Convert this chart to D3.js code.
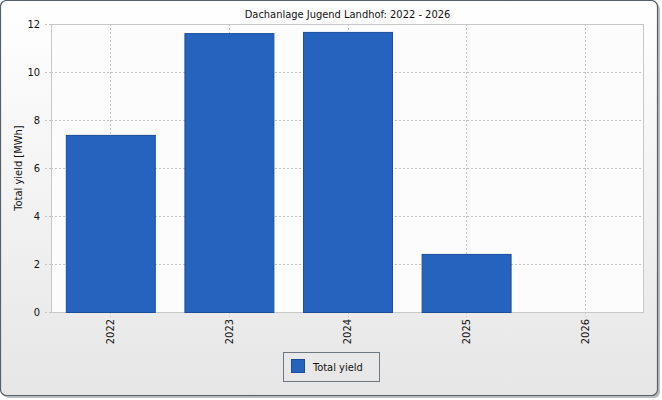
<!DOCTYPE html>
<html>
<head>
<meta charset="utf-8">
<script src="https://cdn.jsdelivr.net/npm/d3@7"></script>
<style>
body { margin: 0; background: #fff; }
svg text { font-family: 'DejaVu Sans Condensed', 'DejaVu Sans', sans-serif; font-size: 11px; fill: #111; }
</style>
</head>
<body>
<svg id="chart" width="662" height="400"></svg>
<script>
var title = 'Dachanlage Jugend Landhof: 2022 - 2026';
var years = ['2022', '2023', '2024', '2025', '2026'];
var totalYield = [7.38, 11.62, 11.67, 2.42, 0];
var yTicks = [0, 2, 4, 6, 8, 10, 12];

var svg = d3.select('#chart'),
	margin = { top: 24, right: 18, bottom: 88, left: 51 },
	width = +svg.attr('width') - margin.left - margin.right,
	height = +svg.attr('height') - margin.top - margin.bottom;

var defs = svg.append('defs');
var grad = defs.append('linearGradient').attr('id', 'bg').attr('x1', 0).attr('y1', 0).attr('x2', 0).attr('y2', 1);
grad.append('stop').attr('offset', '0%').attr('stop-color', '#ffffff');
grad.append('stop').attr('offset', '100%').attr('stop-color', '#e6e6e6');

// frame with shadow
svg.append('rect').attr('x', 3).attr('y', 3).attr('width', 657).attr('height', 395).attr('rx', 6)
	.attr('fill', '#b8bcc0');
svg.append('rect').attr('x', 0.5).attr('y', 0.5).attr('width', 657).attr('height', 395).attr('rx', 6)
	.attr('fill', 'url(#bg)').attr('stroke', '#56606a').attr('stroke-width', 1.2);

svg.append('text')
	.attr('x', margin.left + width / 2).attr('y', 18)
	.attr('text-anchor', 'middle')
	.text(title);

var g = svg.append('g').attr('transform', 'translate(' + margin.left + ',' + margin.top + ')');

var scaleX = d3.scaleBand().domain(years).range([0, width]).paddingInner(0.25).paddingOuter(0.125);
var scaleY = d3.scaleLinear().domain([0, 12]).range([height, 0]);

g.append('rect').attr('width', width).attr('height', height).attr('fill', '#fcfcfc');

// grid
g.append('g').selectAll('line').data(yTicks.slice(1, -1)).join('line')
	.attr('x1', 0).attr('x2', width)
	.attr('y1', function (d) { return scaleY(d) + 0.5; }).attr('y2', function (d) { return scaleY(d) + 0.5; })
	.attr('stroke', '#c4c4c4').attr('stroke-dasharray', '2,2');
g.append('g').selectAll('line').data(years).join('line')
	.attr('x1', function (d) { return Math.round(scaleX(d) + scaleX.bandwidth() / 2) + 0.5; })
	.attr('x2', function (d) { return Math.round(scaleX(d) + scaleX.bandwidth() / 2) + 0.5; })
	.attr('y1', 0).attr('y2', height + 5)
	.attr('stroke', '#c4c4c4').attr('stroke-dasharray', '2,2');

g.append('rect').attr('x', 0.5).attr('y', 0.5).attr('width', width - 1).attr('height', height)
	.attr('fill', 'none').attr('stroke', '#c8c8c8');

// bars
g.append('g').selectAll('rect').data(totalYield).join('rect')
	.attr('x', function (d, i) { return scaleX(years[i]) + 0.5; })
	.attr('y', function (d) { return scaleY(d) + 0.5; })
	.attr('width', scaleX.bandwidth())
	.attr('height', function (d) { return Math.max(0, height - scaleY(d)); })
	.attr('fill', '#2563be').attr('stroke', '#1b4d99').attr('stroke-width', 1);

// y axis
var yAxis = g.append('g')
	.call(d3.axisLeft(scaleY).tickValues(yTicks).tickFormat(d3.format('d')).tickSize(7).tickPadding(4));
yAxis.select('.domain').remove();
yAxis.selectAll('.tick line').attr('stroke', '#c4c4c4').attr('stroke-dasharray', '2,2');
yAxis.selectAll('.tick text').style('font-size', '11px').attr('fill', '#111');

svg.append('text')
	.attr('transform', 'translate(22,' + (margin.top + height / 2) + ') rotate(-90)')
	.attr('text-anchor', 'middle')
	.text('Total yield [MWh]');

// x axis labels
var xAxis = g.append('g').attr('transform', 'translate(0,' + height + ')')
	.call(d3.axisBottom(scaleX).tickSize(0).tickPadding(0));
xAxis.select('.domain').remove();
xAxis.selectAll('.tick text')
	.attr('transform', 'translate(0,7) rotate(-90)')
	.attr('text-anchor', 'end')
	.attr('x', 0).attr('y', 0).attr('dy', '0.35em')
	.style('font-size', '11px').attr('fill', '#111');

// legend
var legend = svg.append('g').attr('transform', 'translate(283,352)');
legend.append('rect').attr('x', 0.5).attr('y', 0.5).attr('width', 96).attr('height', 29)
	.attr('fill', 'none').attr('stroke', '#6e7780');
legend.append('rect').attr('x', 8.5).attr('y', 7.5).attr('width', 13).attr('height', 13)
	.attr('fill', '#2563be').attr('stroke', '#1b4d99');
legend.append('text').attr('x', 30).attr('y', 19).text('Total yield');
</script>
</body>
</html>
